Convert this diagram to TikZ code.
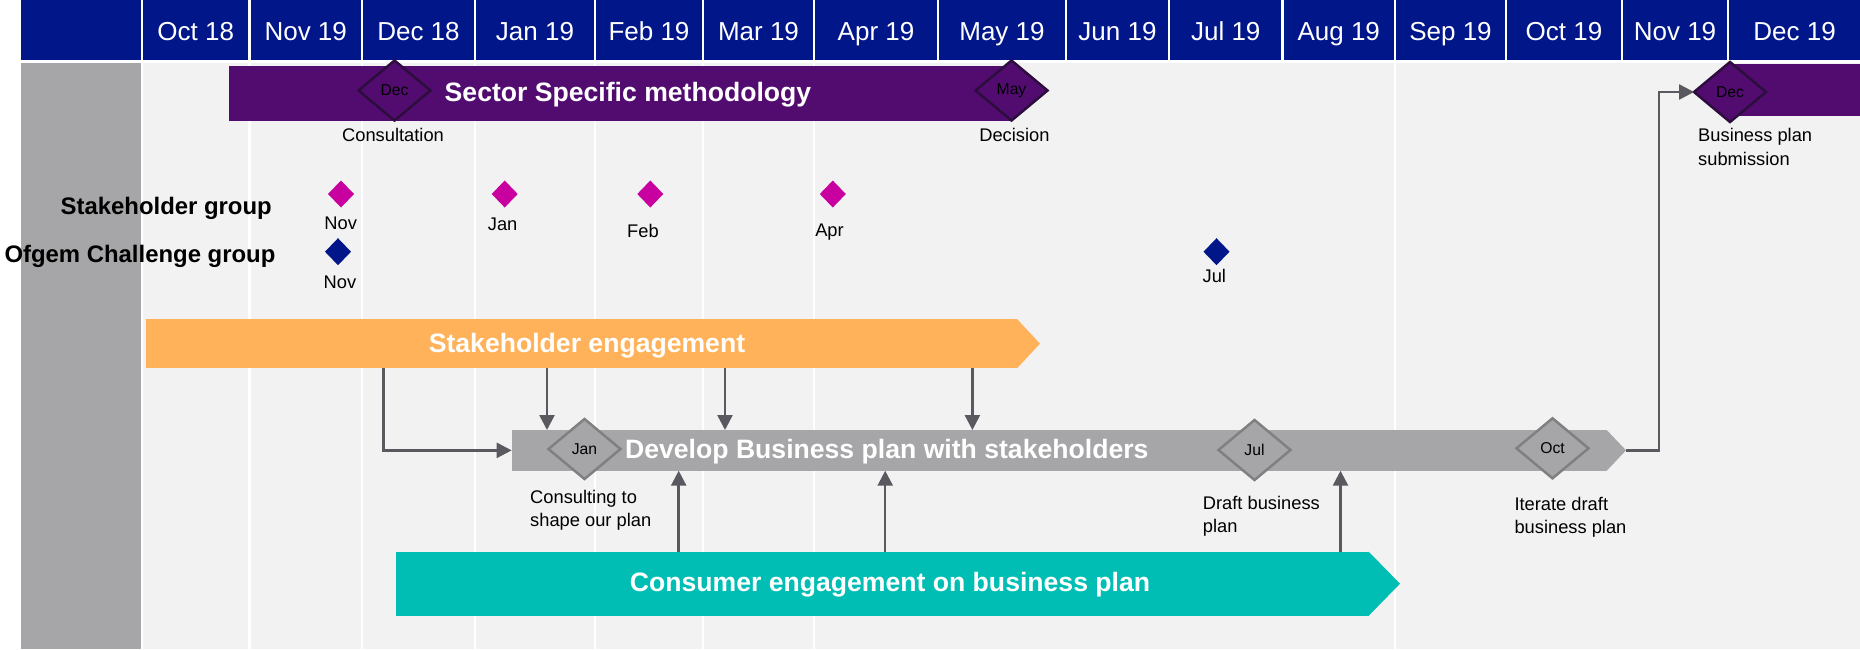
\documentclass[tikz,border=0pt]{standalone}
\usepackage{fontspec}
\setmainfont{Liberation Sans}
\usetikzlibrary{shapes.geometric,arrows.meta}
\definecolor{hdrblue}{RGB}{0,22,137}
\definecolor{ssmpurple}{RGB}{82,12,112}
\definecolor{ssmedge}{RGB}{45,12,62}
\definecolor{seorange}{RGB}{255,178,89}
\definecolor{devgray}{RGB}{166,166,168}
\definecolor{devedge}{RGB}{128,128,130}
\definecolor{conteal}{RGB}{0,190,180}
\definecolor{sgmagenta}{RGB}{200,0,160}
\definecolor{bodybg}{RGB}{242,242,242}
\definecolor{linkgray}{RGB}{89,89,95}
\tikzset{
  barbody/.style={rectangle, inner sep=0pt, outer sep=0pt, anchor=north west},
  bigdiamond/.style={diamond, inner sep=0pt, outer sep=0pt, minimum width=72pt, minimum height=60pt, line width=2.5pt, font=\fontsize{15.7}{18}\selectfont},
  smalldiamond/.style={diamond, inner sep=0pt, outer sep=0pt, minimum width=26pt, minimum height=27pt},
  monthlabel/.style={text=white, inner sep=0pt, font=\fontsize{26}{30}\selectfont},
  bartitle/.style={text=white, inner sep=0pt, font=\fontsize{26.6}{31}\selectfont\bfseries},
  grouplabel/.style={inner sep=0pt, font=\fontsize{23.9}{28}\selectfont\bfseries},
  smalllabel/.style={inner sep=0pt, font=\fontsize{18.3}{23.3}\selectfont},
}
\begin{document}
\begin{tikzpicture}[x=1pt, y=-1pt, >={Triangle[length=15pt,width=15pt]},
  link/.style={draw=linkgray, line width=2.5pt}]
  \useasboundingbox (0,0) rectangle (1860,649);
  \fill[white] (0,0) rectangle (1860,649);
  %--- Month header ---
  \fill[hdrblue] (20.7,0) rectangle (140.8,60);
  \foreach \a/\b/\m [count=\i] in {142/249.5/Oct 18, 249.5/362/Nov 19, 362/475/Dec 18, 475/595/Jan 19, 595/703/Feb 19, 703/814/Mar 19, 814/938/Apr 19, 938/1066/May 19, 1066/1169/Jun 19, 1169/1282.5/Jul 19, 1282.5/1395/Aug 19, 1395/1506/Sep 19, 1506/1622/Oct 19, 1622/1728/Nov 19, 1728/1861.2/Dec 19}{
    \fill[hdrblue] (\a+1.2,0) rectangle (\b-1.2,60);
    \node[monthlabel, anchor=base] (m\i) at ({(\a+\b)/2},40) {\m};
  }
  %--- Body ---
  \fill[devgray] (20.7,62.7) rectangle (140.8,649);
  \fill[bodybg] (143.2,62.7) rectangle (1860,649);
  \foreach \x in {249.5,362,475,595,703,814,1395}
    \draw[white, line width=2.5pt] (\x,62.7) -- (\x,649);

  %--- Sector specific methodology ---
  \node[barbody, fill=ssmpurple, minimum width=782.2pt, minimum height=54.7pt] (ssm) at (229.3,66) {};
  \node[barbody, fill=ssmpurple, minimum width=130pt, minimum height=51.4pt] (bpsbar) at (1730,64.3) {};
  \node[bartitle, anchor=base] (ssmtitle) at (628,101.7) {Sector Specific methodology};
  \node[bigdiamond, fill=ssmpurple, draw=ssmedge] (dcons) at (394.5,90.5) {Dec};
  \node[bigdiamond, fill=ssmpurple, draw=ssmedge] (ddec) at (1011.5,90.5) {May};
  \node[bigdiamond, fill=ssmpurple, draw=ssmedge] (dsub) at (1730,92) {Dec};
  \node[smalllabel, anchor=base] (lcons) at (393,141.7) {Consultation};
  \node[smalllabel, anchor=base] (ldec) at (1014.4,141.7) {Decision};
  % base of a two line label sits on its last line
  \node[smalllabel, anchor=base west, align=left] (lsub) at (1698,165) {Business plan\\submission};

  %--- Group meetings ---
  \node[grouplabel, anchor=base east] (sg) at (272,214) {Stakeholder group};
  \node[grouplabel, anchor=base east] (ocg) at (275.6,262) {Ofgem Challenge group};
  \foreach \x/\lx/\m/\b [count=\i] in {341/340.7/Nov/229.3, 504.7/502.6/Jan/230, 650.3/643/Feb/237.3, 832.8/829.5/Apr/236.7}{
    \node[smalldiamond, fill=sgmagenta] (sgd\i) at (\x,194) {};
    \node[smalllabel, anchor=base] (sgl\i) at (\lx,\b) {\m};
  }
  \foreach \x/\lx/\m/\b [count=\i] in {338/340/Nov/288.3, 1216.5/1214.3/Jul/282.7}{
    \node[smalldiamond, fill=hdrblue] (ocd\i) at (\x,251.7) {};
    \node[smalllabel, anchor=base] (ocl\i) at (\lx,\b) {\m};
  }

  %--- Stakeholder engagement ---
  \node[barbody, fill=seorange, minimum width=871.3pt, minimum height=49.3pt] (se) at (145.7,319) {};
  \fill[seorange] (se.north east) -- (1040,343.65) -- (se.south east) -- cycle;
  \node[bartitle, anchor=base] (setitle) at (587,352.3) {Stakeholder engagement};

  %--- Develop business plan ---
  \node[barbody, fill=devgray, minimum width=1095pt, minimum height=40.7pt] (dev) at (511.7,430) {};
  \coordinate (devtip) at (1626,450.35);
  \fill[devgray] (dev.north east) -- (devtip) -- (dev.south east) -- cycle;
  \node[bigdiamond, fill=devgray, draw=devedge] (djan) at (584.5,449) {Jan};
  \node[bigdiamond, fill=devgray, draw=devedge] (djul) at (1254.5,450) {Jul};
  \node[bigdiamond, fill=devgray, draw=devedge] (doct) at (1552.5,448.3) {Oct};
  \node[bartitle, anchor=base] (devtitle) at (886.8,458.3) {Develop Business plan with stakeholders};
  \node[smalllabel, anchor=base west, align=left] (ljan) at (530,526.6) {Consulting to\\shape our plan};
  \node[smalllabel, anchor=base west, align=left] (ljul) at (1202.7,532.6) {Draft business\\plan};
  \node[smalllabel, anchor=base west, align=left] (loct) at (1514.3,533.3) {Iterate draft\\business plan};

  %--- Consumer engagement ---
  \node[barbody, fill=conteal, minimum width=973.1pt, minimum height=64pt] (con) at (395.6,551.7) {};
  \fill[conteal] (con.north east) -- (1400,583.7) -- (con.south east) -- cycle;
  \node[bartitle, anchor=base] (contitle) at (890,591.7) {Consumer engagement on business plan};

  %--- Links ---
  \foreach \x in {547,725,972.4}
    \draw[link,->] (se.south -| \x,0) -- (dev.north -| \x,0);
  \draw[link,->] (se.south -| 383.3,0) |- (dev.west);
  \foreach \x in {678.7,885.2,1340.5}
    \draw[link,->] (con.north -| \x,0) -- (dev.south -| \x,0);
  \draw[link,->] (devtip) -- ++(33,0) |- (dsub.west);
\end{tikzpicture}
\end{document}
